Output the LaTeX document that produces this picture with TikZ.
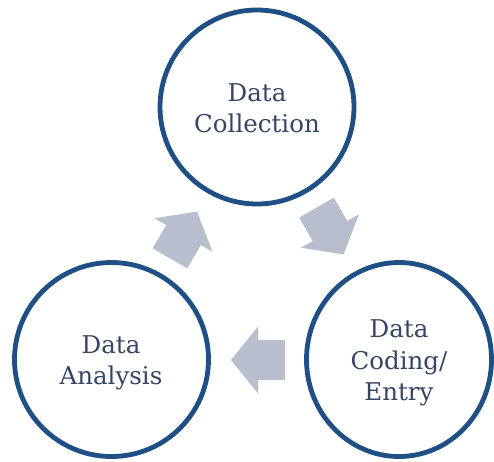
\documentclass[tikz,border=0pt]{standalone}
\usepackage{fontspec}
\setmainfont{DejaVu Serif}
\usetikzlibrary{shapes.geometric,calc}
\definecolor{ringblue}{RGB}{31,80,133}
\definecolor{arrowgray}{RGB}{184,190,205}
\definecolor{textslate}{RGB}{55,69,100}
\begin{document}
\begin{tikzpicture}[x=1pt,y=-1pt,
  ring/.style={circle, draw=ringblue, line width=4.8pt, fill=white, minimum size=194pt, inner sep=0pt},
  lbl/.style={text=textslate, align=center, font=\fontsize{24.5}{31.5}\selectfont, inner sep=0pt},
  cyclearrow/.pic={\fill[arrowgray] (27,0) -- (0,33.5) -- (0,20) -- (-27,20) -- (-27,-20) -- (0,-20) -- (0,-33.5) -- cycle;}
]
\useasboundingbox (0,0) rectangle (494,461);
\fill[white] (0,0) rectangle (494,461);
% circles
\node[ring] (col) at (257,107) {};
\node[ring] (ana) at (111.5,359.5) {};
\node[ring, ellipse, minimum width=185pt, minimum height=194pt] (cod) at (399,359.5) {};
% labels
\node[lbl] (colt) at (257,108) {Data\\Collection};
\node[lbl] (anat) at (111,363) {Data\\Analysis};
\node[lbl] (codt) at (399,363) {Data\\Coding/\\Entry};
% block arrows
\coordinate (a1) at (183.5,235);
\coordinate (a2) at (330,231);
\coordinate (a3) at (258,360);
\pic[rotate=60] at (a1) {cyclearrow};
\pic[rotate=-60] at (a2) {cyclearrow};
\pic[rotate=180] at (a3) {cyclearrow};
\end{tikzpicture}
\end{document}
